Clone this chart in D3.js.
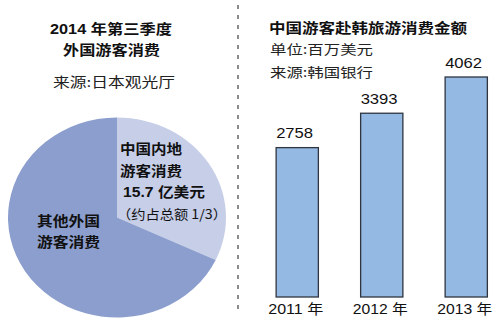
<!DOCTYPE html>
<html><head><meta charset="utf-8">
<script src="https://cdn.jsdelivr.net/npm/d3@7"></script>
<style>
html,body{margin:0;padding:0;background:#fff;}
svg{display:block;}
</style></head>
<body>
<svg id="c" width="500" height="326"></svg>
<script>
// ---- data ----
const pieTitle = ["2014 年第三季度", "外国游客消费"];
const pieSource = "来源:日本观光厅";
const pieCategories = ["中国内地游客消费", "其他外国游客消费"];
const pieValues = [15.7, 33.4];
const pieLabelChina = ["中国内地", "游客消费", "15.7 亿美元", "（约占总额 1/3）"];
const pieLabelOther = ["其他外国", "游客消费"];

const barTitle = "中国游客赴韩旅游消费金额";
const barUnit = "单位:百万美元";
const barSource = "来源:韩国银行";
const years = ["2011 年", "2012 年", "2013 年"];
const spending = [2758, 3393, 4062];

// ---- drawing ----
const svg = d3.select("#c");
const SANS = "'Liberation Sans','Noto Sans CJK SC',sans-serif";
const CJK = "'Noto Sans CJK SC','Liberation Sans',sans-serif";

function txt(s, x, y, o) {
  const t = svg.append("text").text(s).attr("x", x).attr("y", y)
    .attr("font-family", o.family || SANS)
    .attr("font-size", o.size || 14)
    .attr("font-weight", o.weight || "normal")
    .attr("fill", o.fill || "#111")
    .attr("text-anchor", o.anchor || "start");
  if (o.len) t.attr("textLength", o.len).attr("lengthAdjust", "spacingAndGlyphs");
  return t;
}

// divider
svg.append("line").attr("x1", 238).attr("x2", 238).attr("y1", 5).attr("y2", 313)
  .attr("stroke", "#666").attr("stroke-width", 1.5).attr("stroke-dasharray", "4,6");

// left titles
txt(pieTitle[0], 50, 34, {weight: "bold", size: 14, len: 122});
txt(pieTitle[1], 63, 54.5, {weight: "bold", size: 14, len: 97, family: CJK});
txt(pieSource, 53, 87, {size: 13.5, len: 122, family: CJK, fill: "#222"});

// pie
const pieColors = ["#c6cee8", "#8c9ece"];
const pie = d3.pie().sort(null).value(d => d)(pieValues);
const arc = d3.arc().innerRadius(0).outerRadius(100);
const pg = svg.append("g").attr("transform", "translate(117,217.5) scale(1.09,1)");
pg.selectAll("path").data(pie).join("path")
  .attr("d", arc).attr("fill", (d, i) => pieColors[i]);

const chinaPos = [[120, 154, 62, "bold", 14], [120, 176, 62, "bold", 14], [123, 197, 82, "bold", 14], [117, 219, 110, "normal", 13]];
pieLabelChina.forEach((s, i) => {
  const p = chinaPos[i];
  txt(s, p[0], p[1], {weight: p[3], size: p[4], len: p[2], family: i === 2 ? SANS : CJK});
});
pieLabelOther.forEach((s, i) => {
  txt(s, 37, 226 + i * 20.5, {weight: "bold", size: 14, len: 63, family: CJK});
});

// right titles
txt(barTitle, 269, 33, {weight: "bold", size: 14, len: 198, family: CJK});
txt(barUnit, 270, 54, {size: 13, len: 103, family: CJK, fill: "#222"});
txt(barSource, 270, 77, {size: 13, len: 103, family: CJK, fill: "#222"});

// bars
const x = d3.scaleBand().domain(years).range([255, 508.5]).paddingInner(0.5).paddingOuter(0.25);
const y = d3.scaleLinear().domain([0, 4062]).range([297, 77]);
svg.append("g").selectAll("rect").data(spending).join("rect")
  .attr("x", (d, i) => x(years[i]))
  .attr("y", d => y(d))
  .attr("width", x.bandwidth())
  .attr("height", d => y(0) - y(d))
  .attr("fill", "#94b9e3")
  .attr("stroke", "#2e3540").attr("stroke-width", 1.3);

spending.forEach((v, i) => {
  txt(String(v), x(years[i]), y(v) - 9.5, {size: 14.5, len: 37});
});

// x axis labels via d3 axis (no line/ticks)
const ax = svg.append("g").attr("transform", "translate(0,297)")
  .call(d3.axisBottom(x).tickSize(0).tickPadding(0));
ax.select(".domain").remove();
ax.selectAll("text").attr("y", 17).attr("dy", null)
  .attr("font-family", SANS).attr("font-size", 14).attr("fill", "#111")
  .attr("textLength", 55).attr("lengthAdjust", "spacingAndGlyphs")
  .attr("dx", -1.5);
</script>
</body></html>
